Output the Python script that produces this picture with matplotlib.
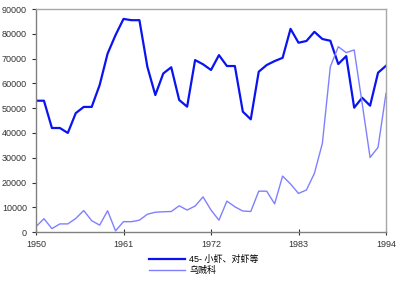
import matplotlib
matplotlib.use("Agg")
import matplotlib.pyplot as plt

plt.rcParams['font.family'] = ['Liberation Sans', 'Noto Sans CJK SC', 'DejaVu Sans']

years = list(range(1950, 1995))

# 45- 小虾、对虾等
shrimp = [53000, 53000, 42000, 42000, 40000, 48000, 50500, 50500, 59300, 72000,
          79500, 86000, 85500, 85500, 66700, 55300, 64000, 66500, 53300, 50600,
          69400, 67700, 65400, 71400, 67000, 67000, 48600, 45500, 64700, 67400,
          69000, 70300, 82000, 76400, 77100, 80800, 77900, 77200, 67800, 71000,
          50200, 54200, 51000, 64300, 67100]

# 乌贼科
cuttlefish = [2200, 5400, 1400, 3300, 3300, 5500, 8700, 4600, 2800, 8600,
              500, 4200, 4200, 4800, 7200, 8000, 8200, 8300, 10600, 8900,
              10500, 14200, 8900, 4800, 12500, 10200, 8500, 8300, 16500, 16500,
              11400, 22600, 19400, 15600, 17000, 23700, 35800, 66700, 74800, 72400,
              73500, 52000, 30100, 34200, 56000]

x_ticks = [1950, 1961, 1972, 1983, 1994]

fig = plt.figure(figsize=(4.0, 2.82), dpi=100)
ax = fig.add_axes([0.09, 0.177, 0.875, 0.791])

ax.plot(years, shrimp, color="#0a14f0", linewidth=1.6, label="45- 小虾、对虾等")
ax.plot(years, cuttlefish, color="#8080ff", linewidth=1.0, label="乌贼科")

ax.set_xlim(1950, 1994)
ax.set_ylim(0, 90000)
ax.set_xticks(x_ticks)
ax.set_yticks(range(0, 90001, 10000))
ax.tick_params(axis='both', labelsize=6.5, colors="#333333", length=3, width=0.8)
ax.tick_params(axis='x', direction='inout', length=5)

# Styling, like an old spreadsheet chart
for side in ["top", "right"]:
    ax.spines[side].set_color("#a8a8a8")
    ax.spines[side].set_linewidth(1.0)
for side in ["left", "bottom"]:
    ax.spines[side].set_color("#808080")
    ax.spines[side].set_linewidth(1.0)

fig.legend(loc="upper left", bbox_to_anchor=(0.36, 0.112), frameon=False,
           fontsize=6.5, handlelength=4.0, handletextpad=0.5,
           labelspacing=0.25, borderpad=0.0)

fig.savefig("out.png", dpi=100)
